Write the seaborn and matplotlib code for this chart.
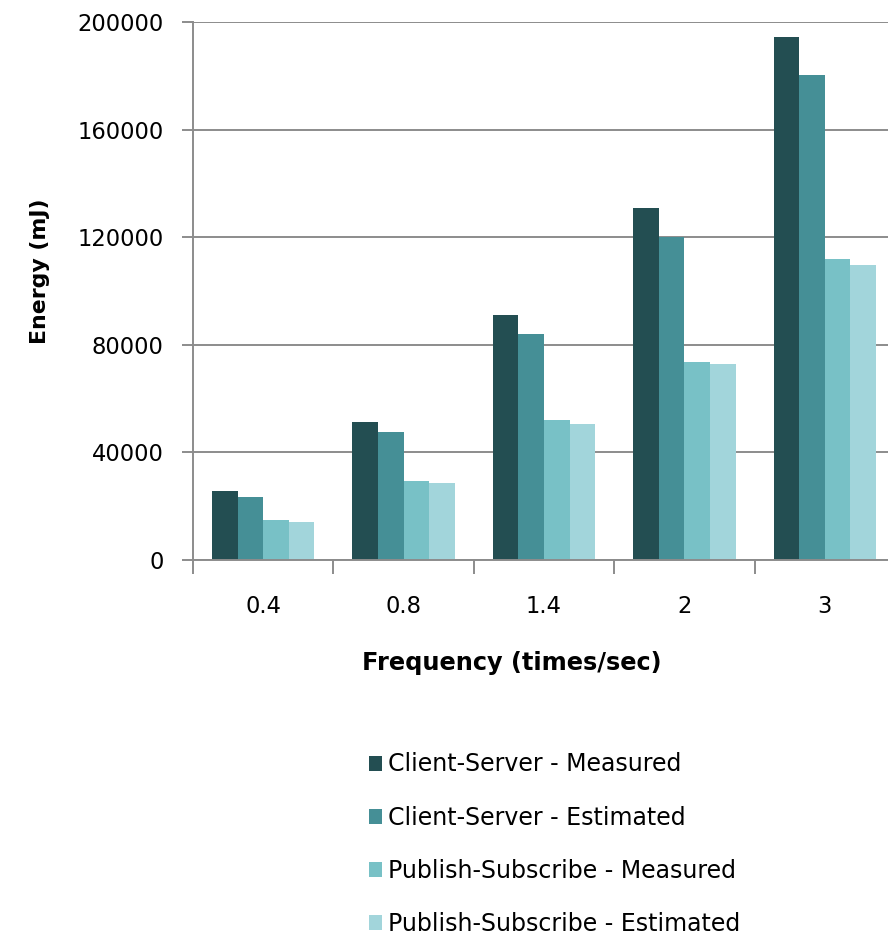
import matplotlib
matplotlib.use("Agg")
import matplotlib.pyplot as plt
import seaborn as sns
import pandas as pd
from matplotlib.patches import Patch

frequencies = ["0.4", "0.8", "1.4", "2", "3"]
series = ["Client-Server - Measured", "Client-Server - Estimated",
          "Publish-Subscribe - Measured", "Publish-Subscribe - Estimated"]
cs_measured = [25800, 51400, 91000, 130700, 194300]
cs_estimated = [23500, 47600, 84000, 120000, 180300]
ps_measured = [15000, 29500, 51900, 73600, 112000]
ps_estimated = [14300, 28700, 50500, 72700, 109500]
colors = ["#234E52", "#458F96", "#78C1C6", "#A2D5DB"]
y_ticks = [0, 40000, 80000, 120000, 160000, 200000]

rows = []
for name, vals in zip(series, [cs_measured, cs_estimated, ps_measured, ps_estimated]):
    for f, v in zip(frequencies, vals):
        rows.append({"Frequency": f, "Series": name, "Energy": v})
df = pd.DataFrame(rows)

sns.set_theme(style="white")
plt.rcParams["font.family"] = ["DejaVu Sans"]

fig = plt.figure(figsize=(8.88, 9.35), dpi=100)
ax = fig.add_axes([193/888, 1-560/935, (895-193)/888, (560-22)/935])

sns.barplot(data=df, x="Frequency", y="Energy", hue="Series", order=frequencies,
            hue_order=series, palette=colors, width=0.73, gap=0, saturation=1,
            edgecolor="none", linewidth=0, ax=ax, legend=False)

ax.set_ylim(0, 200000)
ax.set_xlim(-0.5, 4.5)
ax.set_yticks(y_ticks)
ax.set_yticklabels([str(t) for t in y_ticks], fontsize=16.3, color="black")
ax.yaxis.grid(True, color="#8c8c8c", linewidth=1.4)
ax.set_axisbelow(True)
for s in ["top", "right"]:
    ax.spines[s].set_visible(False)
for s in ["left", "bottom"]:
    ax.spines[s].set_color("#8c8c8c")
    ax.spines[s].set_linewidth(1.4)

ax.tick_params(axis="y", which="major", length=8, width=1.4, color="#8c8c8c",
               direction="out", left=True, pad=13)
ax.set_xticks(range(len(frequencies)))
ax.set_xticklabels(frequencies, fontsize=16.3, color="black")
ax.tick_params(axis="x", which="major", length=0, pad=25)
ax.set_xticks([i - 0.5 for i in range(len(frequencies) + 1)], minor=True)
ax.tick_params(axis="x", which="minor", length=10, width=1.4, color="#8c8c8c",
               direction="out", bottom=True)

ax.set_xlabel("")
ax.set_ylabel("")
fig.text(40/888, 1-271/935, "Energy (mJ)", rotation=90, ha="center", va="center",
         fontsize=15.8, fontweight="bold", color="black")
fig.text(512/888, 1-663/935, "Frequency (times/sec)", ha="center", va="center",
         fontsize=17.3, fontweight="bold", color="black")

handles = [Patch(facecolor=c, edgecolor="none", label=s) for c, s in zip(colors, series)]
leg = fig.legend(handles=handles, loc="upper left", bbox_to_anchor=(360/888, 1-743/935),
                 frameon=False, fontsize=17, handlelength=0.55, handleheight=0.6,
                 handletextpad=0.25, labelspacing=1.24, borderaxespad=0)
for t in leg.get_texts():
    t.set_color("black")

fig.savefig("out.png", dpi=100)
